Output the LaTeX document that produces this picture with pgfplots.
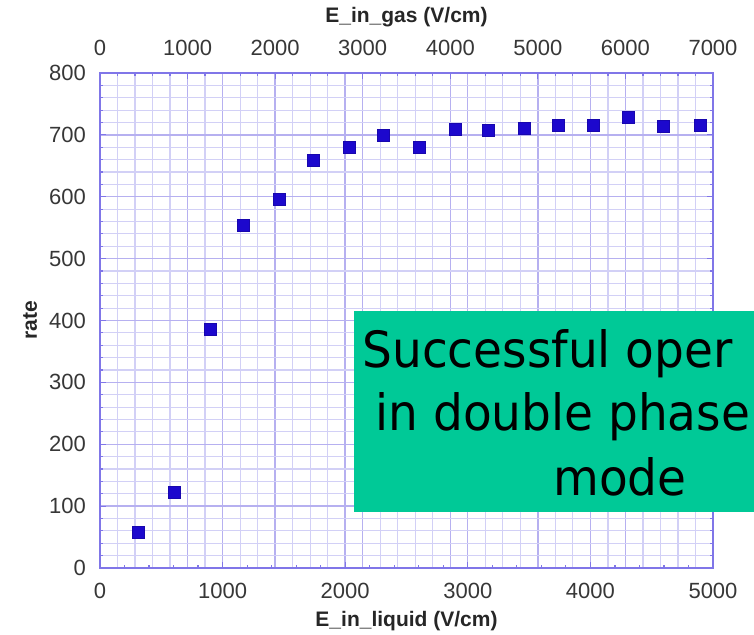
\documentclass[border=0pt]{standalone}
\usepackage{fontspec}
\setmainfont{Liberation Sans}
\newfontfamily\notefont[FakeStretch=0.94]{DejaVu Sans}
\usepackage{pgfplots}
\pgfplotsset{compat=1.18}

\definecolor{gridminor}{RGB}{210,208,246}
\definecolor{gridmajor}{RGB}{182,176,240}
\definecolor{axisframe}{RGB}{128,118,232}
\definecolor{markblue}{RGB}{28,8,205}
\definecolor{notegreen}{RGB}{0,201,151}
\definecolor{ticklabel}{RGB}{55,55,55}

\pgfplotsset{
  rateaxis/.style={
    scale only axis, width=306.5pt, height=247.5pt,
    ymin=0, ymax=800,
    tick align=inside,
    major tick length=3pt, minor tick length=1.6pt,
    axis line style={axisframe, line width=0.8pt},
    tick style={axisframe, line width=0.6pt},
    minor grid style={gridminor, line width=0.6pt},
    major grid style={gridmajor, line width=0.7pt},
    tick label style={font=\fontsize{11}{13}\selectfont, text=ticklabel},
    label style={font=\bfseries\fontsize{10.5}{12}\selectfont, text=black!85},
    /pgf/number format/assume math mode=true,
    /pgf/number format/1000 sep={},
  }
}

\begin{document}
\begin{tikzpicture}
\useasboundingbox (-50pt,-33pt) rectangle (327pt,284pt);
\clip (-50pt,-33pt) rectangle (327pt,284pt);

% upper scale: field in the gas gap, carries the fine vertical grid
\begin{axis}[
  rateaxis,
  xmin=0, xmax=7000,
  axis x line*=top, hide y axis,
  xtick={0,1000,...,7000}, minor x tick num=4,
  xmajorgrids, xminorgrids,
  xticklabel style={yshift=5pt},
  xlabel={E\_in\_gas (V/cm)},
  xlabel style={at={(axis description cs:0.5,1.112)}, anchor=center},
]
\addplot[draw=none, forget plot] coordinates {(0,0)};
\end{axis}

% main scale: field in the liquid, rate on the left
\begin{axis}[
  rateaxis,
  xmin=0, xmax=5000,
  xtick={0,1000,...,5000}, minor x tick num=4,
  xtick pos=bottom, xticklabel pos=bottom,
  ytick={0,100,...,800}, minor y tick num=4,
  ytick pos=both, yticklabel pos=left,
  xmajorgrids, ymajorgrids, yminorgrids,
  xticklabel style={yshift=-4pt},
  yticklabel style={xshift=-3.5pt},
  xlabel={E\_in\_liquid (V/cm)},
  xlabel style={at={(axis description cs:0.5,-0.107)}, anchor=center},
  ylabel={rate},
  ylabel style={at={(axis description cs:-0.114,0.5)}, anchor=center, rotate=0},
]
\addplot[only marks, mark=square*, mark size=3pt,
  mark options={fill=markblue, draw=markblue!85!black, line width=0.4pt}]
  coordinates {
    (310,57) (604,122) (897,386) (1169,553) (1462,595)
    (1740,658) (2031,680) (2308,699) (2605,680) (2898,709)
    (3170,708) (3461,710) (3741,715) (4027,715) (4307,729)
    (4595,714) (4894,715)
  };
\end{axis}

% note box
\fill[notegreen] (127pt,28pt) rectangle (340pt,128.5pt);
\begin{scope}[every node/.style={anchor=base west, inner sep=0pt,
    font=\notefont\fontsize{25}{30}\selectfont}]
  \node at (131pt,100.5pt) {Successful oper};
  \node at (137.5pt,69pt) {in double phase};
  \node at (226.5pt,36.5pt) {mode};
\end{scope}
\end{tikzpicture}
\end{document}
